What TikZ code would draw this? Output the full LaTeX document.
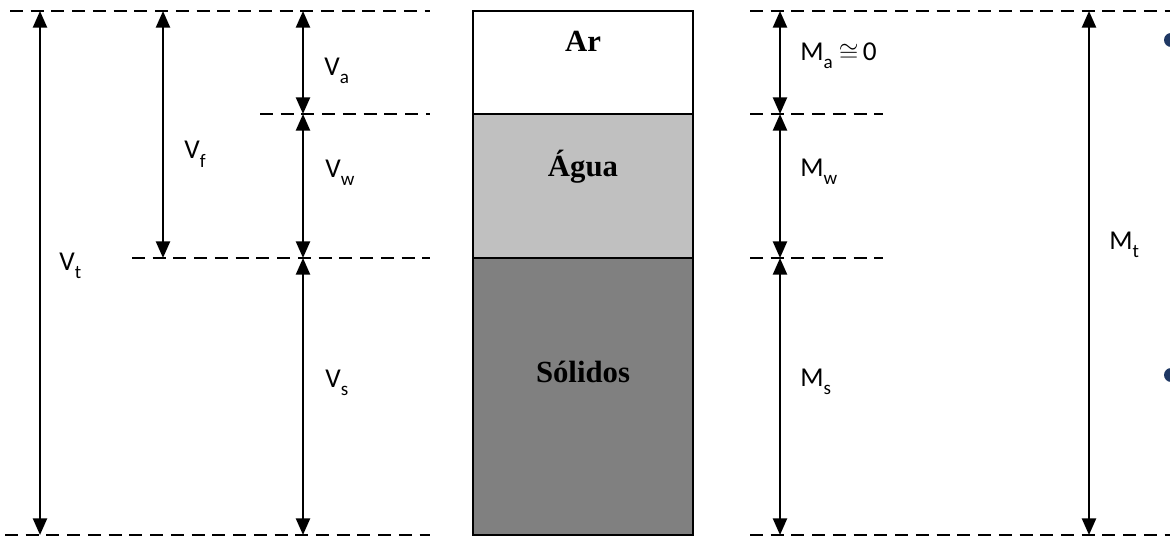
\documentclass[tikz,border=0pt]{standalone}
\usepackage{fontspec}
\setmainfont{Carlito}
\newfontfamily\phasefont{Liberation Serif}
\usetikzlibrary{arrows.meta}
\definecolor{aguagray}{RGB}{192,192,192}
\definecolor{solidgray}{RGB}{128,128,128}
\definecolor{bulletblue}{RGB}{31,56,100}
\tikzset{
  dimline/.style={line width=1.3pt,{Triangle[length=9.5pt,width=8pt]}-{Triangle[length=9.5pt,width=8pt]}},
  levelline/.style={line width=0.85pt,dash pattern=on 7.4pt off 4.4pt},
  dimlabel/.style={anchor=base west,inner sep=0pt,font=\fontsize{15.5}{18}\selectfont},
  phaselabel/.style={anchor=base,inner sep=0pt,font=\phasefont\bfseries\fontsize{17.5}{20}\selectfont},
}
\newcommand{\lowsub}[1]{\raisebox{-0.32ex}{\textsubscript{#1}}}
\begin{document}
\begin{tikzpicture}[x=0.02cm,y=-0.02cm]
  \useasboundingbox (0,0) rectangle (1170,536);

  % phase column
  \filldraw[fill=white,line width=0.85pt] (473,11) rectangle (693,114);
  \filldraw[fill=aguagray,line width=0.85pt] (473,114) rectangle (693,258);
  \filldraw[fill=solidgray,line width=0.85pt] (473,258) rectangle (693,535);
  \node[phaselabel] (ar) at (583,52) {Ar};
  \node[phaselabel] (agua) at (583,177) {Água};
  \node[phaselabel] (solidos) at (583,383) {Sólidos};

  % level lines
  \coordinate (l0a) at (10,11);   \coordinate (l0b) at (430,11);
  \coordinate (l1a) at (260,114); \coordinate (l1b) at (430,114);
  \coordinate (l2a) at (132,258); \coordinate (l2b) at (430,258);
  \coordinate (l3a) at (5,535);   \coordinate (l3b) at (430,535);
  \coordinate (r0a) at (750,11);  \coordinate (r0b) at (1170,11);
  \coordinate (r1a) at (750,114); \coordinate (r1b) at (883,114);
  \coordinate (r2a) at (750,258); \coordinate (r2b) at (883,258);
  \coordinate (r3a) at (750,535); \coordinate (r3b) at (1170,535);
  \draw[levelline] (l0a) -- (l0b);
  \draw[levelline] (l1a) -- (l1b);
  \draw[levelline] (l2a) -- (l2b);
  \draw[levelline] (l3a) -- (l3b);
  \draw[levelline] (r0a) -- (r0b);
  \draw[levelline] (r1a) -- (r1b);
  \draw[levelline] (r2a) -- (r2b);
  \draw[levelline] (r3a) -- (r3b);

  % volumes
  \coordinate (vt0) at (40,11);  \coordinate (vt1) at (40,535);
  \coordinate (vf0) at (163,11); \coordinate (vf1) at (163,258);
  \coordinate (v0) at (303,11);  \coordinate (v1) at (303,114);
  \coordinate (v2) at (303,258); \coordinate (v3) at (303,535);
  \draw[dimline] (vt0) -- (vt1);
  \draw[dimline] (vf0) -- (vf1);
  \draw[dimline] (v0) -- (v1);
  \draw[dimline] (v1) -- (v2);
  \draw[dimline] (v2) -- (v3);
  \node[dimlabel] (va) at (324,76) {V\lowsub{a}};
  \node[dimlabel] (vf) at (184,159) {V\lowsub{f}};
  \node[dimlabel] (vw) at (325,178) {V\lowsub{w}};
  \node[dimlabel] (vt) at (59,271) {V\lowsub{t}};
  \node[dimlabel] (vs) at (325,388) {V\lowsub{s}};

  % masses
  \coordinate (m0) at (780,11);  \coordinate (m1) at (780,114);
  \coordinate (m2) at (780,258); \coordinate (m3) at (780,535);
  \coordinate (mt0) at (1089,11); \coordinate (mt1) at (1089,535);
  \draw[dimline] (m0) -- (m1);
  \draw[dimline] (m1) -- (m2);
  \draw[dimline] (m2) -- (m3);
  \draw[dimline] (mt0) -- (mt1);
  \node[dimlabel] (ma) at (800,61) {M\lowsub{a}\kern3pt$\cong$\kern2.5pt0};
  \node[dimlabel] (mw) at (800,177) {M\lowsub{w}};
  \node[dimlabel] (ms) at (800,387) {M\lowsub{s}};
  \node[dimlabel] (mt) at (1109,250) {M\lowsub{t}};

  % bullets cut at the edge
  \begin{scope}
    \clip (0,0) rectangle (1170,536);
    \fill[bulletblue] (1171,40) circle[radius=7];
    \fill[bulletblue] (1171,375) circle[radius=7];
  \end{scope}
\end{tikzpicture}
\end{document}
